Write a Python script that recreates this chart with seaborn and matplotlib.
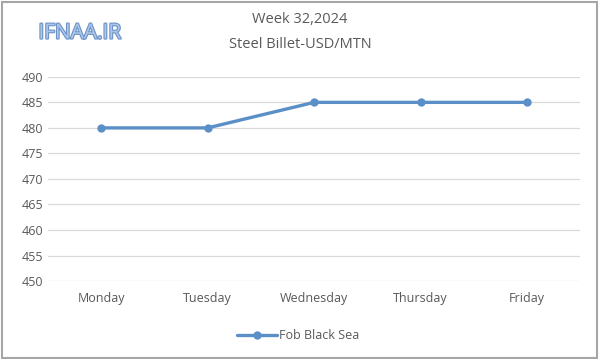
import matplotlib
matplotlib.use("Agg")
from matplotlib import pyplot as plt
import matplotlib.patheffects as pe
import pandas as pd
import seaborn as sns

days = ["Monday", "Tuesday", "Wednesday", "Thursday", "Friday"]
prices = [480, 480, 485, 485, 485]
series_name = "Fob Black Sea"
yticks = [450, 455, 460, 465, 470, 475, 480, 485, 490]

df = pd.DataFrame({"day": days, "price": prices, "series": series_name})

sns.set_theme(style="white")
plt.rcParams["font.family"] = ["Open Sans", "DejaVu Sans"]

fig = plt.figure(figsize=(6, 3.59), dpi=100)
ax = fig.add_axes([0.08, 0.217, 0.887, 0.569])

sns.lineplot(data=df, x="day", y="price", hue="series", palette=["#5B8FC7"],
             marker="o", markersize=6, markeredgewidth=0, linewidth=2.4,
             sort=False, ax=ax)

ax.set_xlim(-0.5, len(days) - 0.5)
ax.set_ylim(450, 490)
ax.set_yticks(yticks)
ax.yaxis.grid(True, color="#d9d9d9", linewidth=0.9)
ax.set_axisbelow(True)
for s in ax.spines.values():
    s.set_visible(False)
ax.tick_params(axis="both", length=0, labelsize=9, colors="#595959")
ax.tick_params(axis="x", pad=8)
ax.set_xlabel("")
ax.set_ylabel("")

ax.legend(loc="upper center", bbox_to_anchor=(0.47, -0.18), frameon=False,
          fontsize=9, labelcolor="#595959", handlelength=3.2, handletextpad=0.2)

fig.text(0.5, 0.945, "Week 32,2024", ha="center", va="center", fontsize=10.5, color="#595959")
fig.text(0.5, 0.875, "Steel Billet-USD/MTN", ha="center", va="center", fontsize=10.5, color="#595959")

wm = fig.text(0.133, 0.908, "IFNAA.IR", ha="center", va="center", fontsize=15,
              color="#a9c6ec", fontweight="normal")
wm.set_path_effects([pe.withStroke(linewidth=1.6, foreground="#6f93c6")])

fig.patches.append(plt.Rectangle((0.003, 0.004), 0.992, 0.99, transform=fig.transFigure,
                                 fill=False, edgecolor="#a6a6a6", linewidth=1.5))

fig.savefig("out.png", dpi=100)
